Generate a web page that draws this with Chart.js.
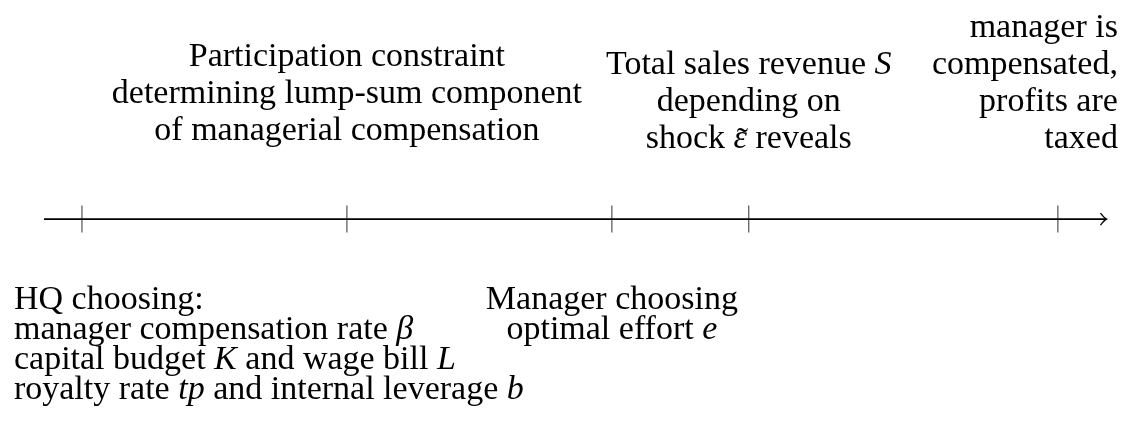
<!DOCTYPE html>
<html>
<head>
<meta charset="utf-8">
<script src="https://cdn.jsdelivr.net/npm/chart.js@4.4.1/dist/chart.umd.min.js"></script>
<style>
  html, body { margin: 0; padding: 0; background: #fff; }
  #wrap { width: 1125px; height: 436px; position: relative; }
</style>
</head>
<body>
<div id="wrap"><canvas id="timeline"></canvas></div>
<script>
// timeline events (position on the time axis)
const eventTimes = [1, 4, 7, 8.55, 12.05];
const axisStart = 0.57;
const axisEnd = 12.6;

// text above the axis, one list per event
const topLabels = [
    [],
    ['Participation constraint', 'determining lump-sum component', 'of managerial compensation'],
    [],
    ['Total sales revenue $S$', 'depending on', 'shock $\u03b5~$ reveals'],
    ['manager is', 'compensated,', 'profits are', 'taxed']
];

// text below the axis
const bottomLabels = [
    ['HQ choosing:', 'manager compensation rate $\u03b2$', 'capital budget $K$ and wage bill $L$', 'royalty rate $tp$ and internal leverage $b$'],
    [],
    ['Manager choosing', 'optimal effort $e$'],
    [],
    []
];

// how each label block sits against its tick
const topAlign = ['center', 'center', 'center', 'center', 'right'];
const topShift = [0, 0, 0, 0, 60];
const topGap = [0, 79, 0, 71, 71];
const bottomAlign = ['left', 'center', 'center', 'center', 'center'];
const bottomShift = [-68, 0, 0, 0, 0];
const bottomGap = 90;

const FONT_SIZE = 34;
const TOP_LINE_H = 37;
const BOTTOM_LINE_H = 30;
const FAMILY = '"Liberation Serif", "DejaVu Serif", serif';

function parts(line){
    // split "$...$" into italic runs
    return line.split('$').map((s, i) => ({ text: s, italic: i % 2 === 1 }));
}

function setFont(ctx, italic){
    ctx.font = (italic ? 'italic ' : '') + FONT_SIZE + 'px ' + FAMILY;
}

function runWidth(ctx, p){
    setFont(ctx, p.italic);
    // a "~" means a tilde accent over the previous glyph
    return ctx.measureText(p.text.replace('~', '')).width;
}

function drawLine(ctx, line, x, y, align){
    const ps = parts(line);
    const w = ps.reduce((a, p) => a + runWidth(ctx, p), 0);
    let cx = x;
    if (align === 'center') cx = x - w / 2;
    if (align === 'right') cx = x - w;
    for (const p of ps){
        setFont(ctx, p.italic);
        const txt = p.text.replace('~', '');
        ctx.fillText(txt, cx, y);
        const tw = ctx.measureText(txt).width;
        if (p.text.includes('~')){
            const tilde = '\u02dc';
            setFont(ctx, false);
            const aw = ctx.measureText(tilde).width;
            ctx.fillText(tilde, cx + tw / 2 - aw / 2 + 2, y + 3);
        }
        cx += tw;
    }
}

const labelPlugin = {
    id: 'timelineLabels',
    afterDatasetsDraw(chart){
        const ctx = chart.ctx;
        const xs = chart.scales.x;
        const ys = chart.scales.y;
        const y0 = ys.getPixelForValue(0);
        ctx.save();
        ctx.fillStyle = '#000';
        ctx.textBaseline = 'alphabetic';

        // arrow head at the end of the axis
        const xe = xs.getPixelForValue(axisEnd);
        ctx.strokeStyle = '#000';
        ctx.lineWidth = 1.4;
        ctx.beginPath();
        ctx.moveTo(xe - 6, y0 - 6);
        ctx.quadraticCurveTo(xe - 2, y0 - 1, xe, y0);
        ctx.quadraticCurveTo(xe - 2, y0 + 1, xe - 6, y0 + 6);
        ctx.stroke();

        eventTimes.forEach((t, i) => {
            const px = xs.getPixelForValue(t);
            const top = topLabels[i];
            top.forEach((line, k) => {
                const base = y0 - topGap[i] - (top.length - 1 - k) * TOP_LINE_H;
                drawLine(ctx, line, px + topShift[i], base, topAlign[i]);
            });
            const bot = bottomLabels[i];
            bot.forEach((line, k) => {
                const base = y0 + bottomGap + k * BOTTOM_LINE_H;
                drawLine(ctx, line, px + bottomShift[i], base, bottomAlign[i]);
            });
        });
        ctx.restore();
    }
};

new Chart(document.getElementById('timeline').getContext('2d'), {
    type: 'scatter',
    data: {
        datasets: [{
            // the time axis itself
            type: 'line',
            data: [{x: axisStart, y: 0}, {x: axisEnd, y: 0}],
            borderColor: '#000',
            borderWidth: 1.6,
            pointRadius: 0,
            fill: false
        }, {
            // tick marks at each event
            data: eventTimes.map(t => ({x: t, y: 0})),
            pointStyle: 'line',
            rotation: 90,
            radius: 13.5,
            borderColor: '#444',
            borderWidth: 1.1,
            backgroundColor: '#444'
        }]
    },
    options: {
        responsive: true,
        maintainAspectRatio: false,
        animation: false,
        layout: { padding: 0, autoPadding: false },
        plugins: { legend: { display: false }, tooltip: { enabled: false } },
        scales: {
            x: { type: 'linear', display: false, min: 0.072, max: 12.81 },
            y: { type: 'linear', display: false, min: -1, max: 1.01 }
        }
    },
    plugins: [labelPlugin]
});
</script>
</body>
</html>
